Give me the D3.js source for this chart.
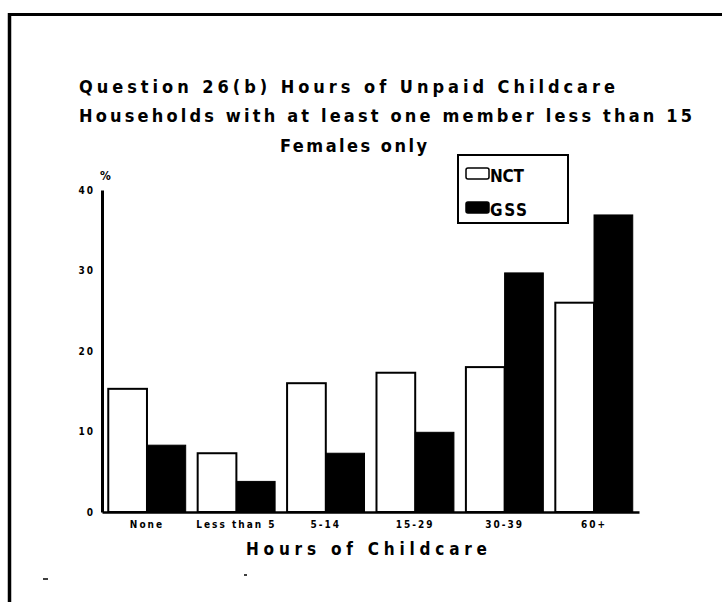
<!DOCTYPE html>
<html>
<head>
<meta charset="utf-8">
<script src="https://cdn.jsdelivr.net/npm/d3@7/dist/d3.min.js"></script>
<style>
  html, body { margin: 0; padding: 0; background: #fff; }
  svg { display: block; }
  text { font-family: "DejaVu Sans Condensed", "Liberation Sans Narrow", sans-serif; font-stretch: condensed; font-weight: bold; fill: #000; }
</style>
</head>
<body>
<svg id="chart" width="722" height="602"></svg>
<script>
// ---- data ----
const categories = ["None", "Less than 5", "5-14", "15-29", "30-39", "60+"];
const seriesNames = ["NCT", "GSS"];
const nctValues = [15.3, 7.3, 16.0, 17.3, 18.0, 26.0];
const gssValues = [8.3, 3.8, 7.3, 9.9, 29.7, 36.9];
const yTicks = [0, 10, 20, 30, 40];
const titleLines = [
  "Question 26(b) Hours of Unpaid Childcare",
  "Households with at least one member less than 15",
  "Females only"
];
const xAxisTitle = "Hours of Childcare";
const yAxisTitle = "%";

// ---- layout ----
const svg = d3.select("#chart");
const fills = { NCT: "#fff", GSS: "#000" };

// page border (scanned frame)
svg.append("line").attr("x1", 9).attr("y1", 14.5).attr("x2", 722).attr("y2", 14.5)
  .attr("stroke", "#000").attr("stroke-width", 3);
svg.append("line").attr("x1", 9.5).attr("y1", 13).attr("x2", 9.5).attr("y2", 602)
  .attr("stroke", "#000").attr("stroke-width", 3.5);

// titles
const titleSpecs = [
  { x: 79, y: 93, len: 536, size: 18 },
  { x: 79, y: 122, len: 613, size: 18 },
  { x: 280, y: 152, len: 147, size: 18 }
];
titleLines.forEach((t, i) => {
  const s = titleSpecs[i];
  svg.append("text").attr("x", s.x).attr("y", s.y)
    .attr("font-size", s.size)
    .attr("textLength", s.len).attr("lengthAdjust", "spacing")
    .text(t);
});

// scales
const x0 = d3.scaleBand().domain(categories).range([102, 639])
  .paddingInner(0.134).paddingOuter(0.07);
const x1 = d3.scaleBand().domain(seriesNames).range([0, x0.bandwidth()]).padding(0);
const y = d3.scaleLinear().domain([0, 40]).range([512, 190]);

const rows = categories.map((c, i) => ({ cat: c, NCT: nctValues[i], GSS: gssValues[i] }));

// bars
const g = svg.append("g");
const groups = g.selectAll("g.grp").data(rows).join("g")
  .attr("class", "grp")
  .attr("transform", d => `translate(${x0(d.cat)},0)`);
groups.selectAll("rect").data(d => seriesNames.map(k => ({ key: k, value: d[k] }))).join("rect")
  .attr("x", d => x1(d.key))
  .attr("y", d => y(d.value))
  .attr("width", x1.bandwidth())
  .attr("height", d => y(0) - y(d.value))
  .attr("fill", d => fills[d.key])
  .attr("stroke", "#000")
  .attr("stroke-width", d => d.key === "NCT" ? 2 : 1);

const tickFont = "'DejaVu Sans Condensed', 'Liberation Sans Narrow', sans-serif";

// x axis
const xAxis = svg.append("g").attr("transform", `translate(0,${y(0)})`)
  .call(d3.axisBottom(x0).tickSize(0).tickSizeOuter(0));
xAxis.select(".domain").attr("stroke-width", 2.5);
xAxis.selectAll("text")
  .attr("y", 16).attr("dy", 0)
  .attr("font-size", 10).attr("letter-spacing", 2)
  .style("font-family", tickFont)
  .style("font-weight", "bold");

// y axis
const yAxis = svg.append("g").attr("transform", `translate(${x0.range()[0]},0)`)
  .call(d3.axisLeft(y).tickValues(yTicks).tickFormat(d3.format("d")).tickSize(0).tickSizeOuter(0).tickPadding(7));
yAxis.select(".domain").attr("stroke-width", 3);
yAxis.selectAll("text")
  .attr("font-size", 10).attr("letter-spacing", 2)
  .style("font-family", tickFont)
  .style("font-weight", "bold");

// axis titles
svg.append("text").attr("x", 100).attr("y", 180).attr("font-size", 12).text(yAxisTitle);
svg.append("text").attr("x", 246).attr("y", 555).attr("font-size", 17)
  .attr("textLength", 241).attr("lengthAdjust", "spacing").text(xAxisTitle);

// legend
const legend = svg.append("g");
legend.append("rect").attr("x", 458).attr("y", 155).attr("width", 110).attr("height", 68)
  .attr("fill", "#fff").attr("stroke", "#000").attr("stroke-width", 2);
seriesNames.forEach((k, i) => {
  const ly = 168 + i * 34;
  legend.append("rect").attr("x", 466).attr("y", ly).attr("width", 23).attr("height", 11)
    .attr("rx", 2).attr("fill", fills[k]).attr("stroke", "#000").attr("stroke-width", 1.5);
  legend.append("text").attr("x", 490).attr("y", ly + 14).attr("font-size", 17)
    .attr("textLength", 34 + i * 3).attr("lengthAdjust", "spacing").text(k);
});

// small scan marks
svg.append("line").attr("x1", 43).attr("x2", 48).attr("y1", 579).attr("y2", 579).attr("stroke", "#000").attr("stroke-width", 1.5);
svg.append("line").attr("x1", 244).attr("x2", 247).attr("y1", 575).attr("y2", 575).attr("stroke", "#000").attr("stroke-width", 1.5);
</script>
</body>
</html>
